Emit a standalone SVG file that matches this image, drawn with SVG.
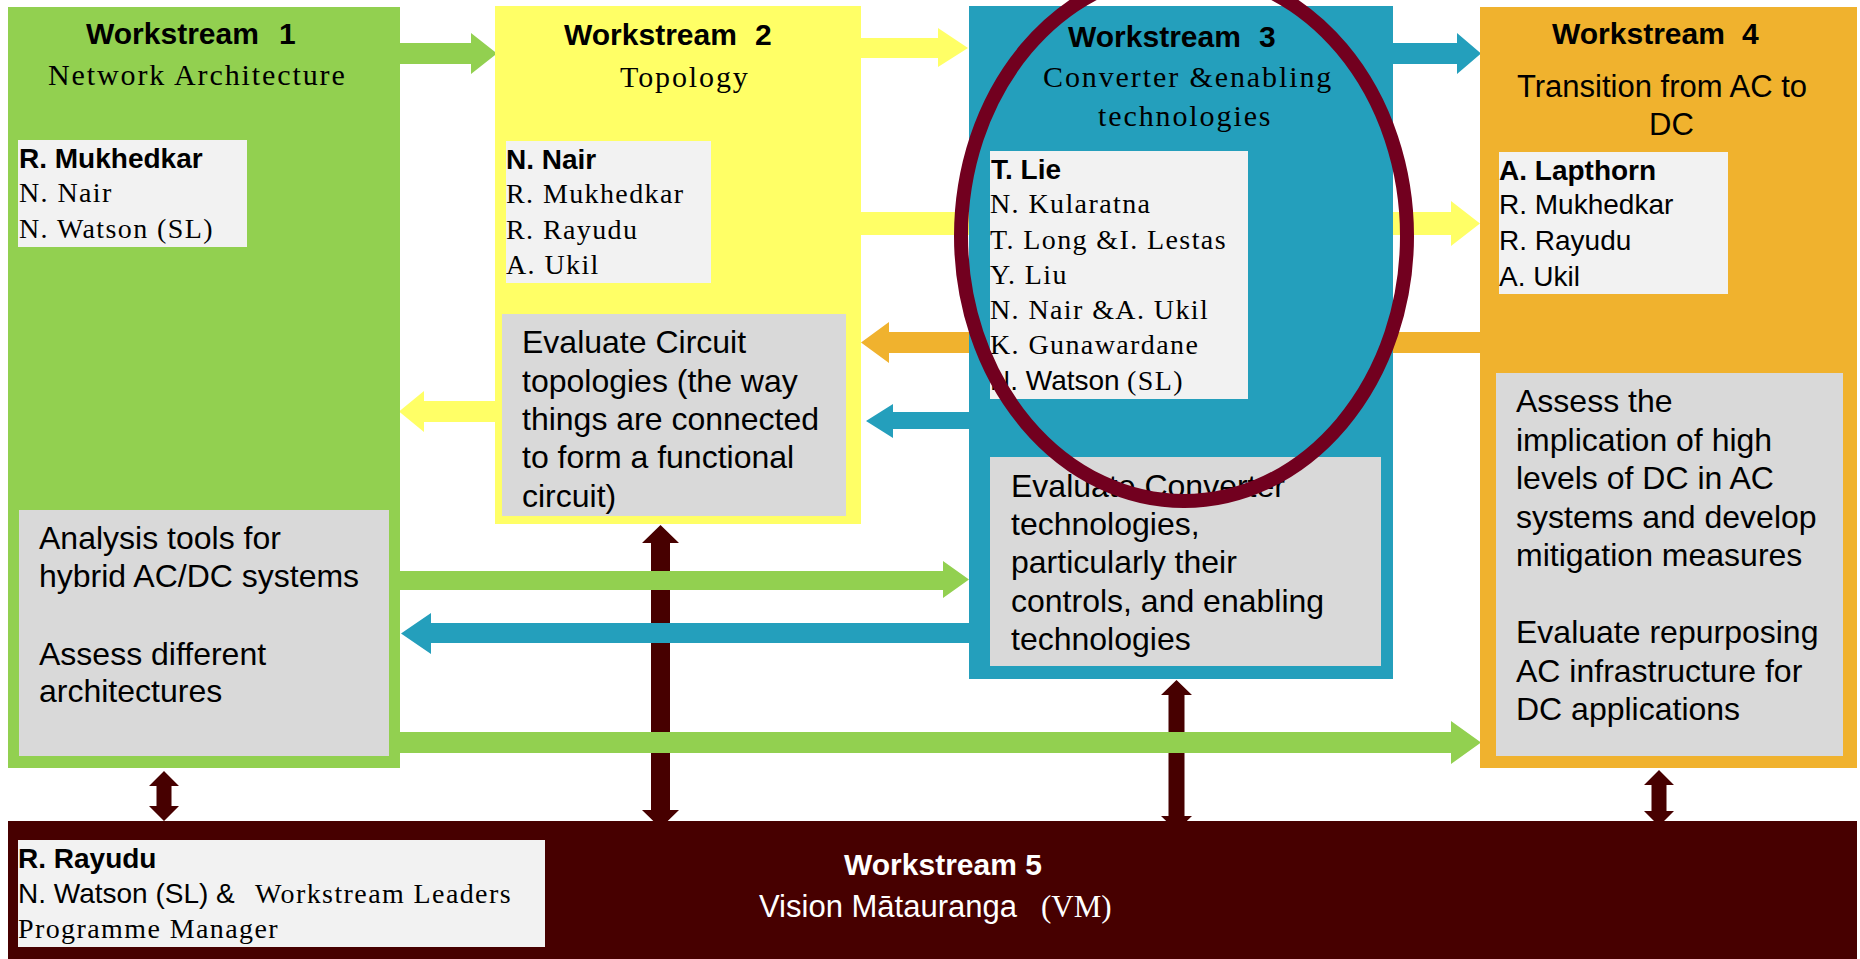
<svg xmlns="http://www.w3.org/2000/svg" width="1860" height="959" viewBox="0 0 1860 959">
<style>
.sans{font-family:"Liberation Sans",Arial,sans-serif}
.serif{font-family:"Liberation Serif","Times New Roman",serif}
.hd{font-family:"Liberation Sans",Arial,sans-serif;font-weight:bold;font-size:30px;fill:#000}
.sub{font-family:"Liberation Serif","Times New Roman",serif;font-size:30px;letter-spacing:1.9px;fill:#000}
.lead{font-family:"Liberation Sans",Arial,sans-serif;font-weight:bold;font-size:28px;fill:#000}
.nm{font-family:"Liberation Serif","Times New Roman",serif;font-size:28px;letter-spacing:1.4px;fill:#000}
.nms{font-family:"Liberation Sans",Arial,sans-serif;font-size:28px;fill:#000}
.desc{font-family:"Liberation Sans",Arial,sans-serif;font-size:32px;fill:#000}
.green{fill:#92d050}
.yellow{fill:#ffff66}
.teal{fill:#249fbc}
.orange{fill:#f0b22e}
.dark{fill:#470000}
.names{fill:#f2f2f2}
.box{fill:#d9d9d9}
</style>
<rect x="0" y="0" width="1860" height="959" fill="#ffffff"/>

<g id="connectors">
  <!-- vertical links to Workstream 5 -->
  <polygon class="dark" points="164,771 179,786 171.5,786 171.5,806 179,806 164,821 149,806 156.5,806 156.5,786 149,786"/>
  <polygon class="dark" points="660.5,525 679,543 670,543 670,810 679,810 660.5,828 642,810 651,810 651,543 642,543"/>
  <polygon class="dark" points="1176.5,680 1192,695 1184.5,695 1184.5,816 1192,816 1176.5,831 1161,816 1168.5,816 1168.5,695 1161,695"/>
  <polygon class="dark" points="1659,770 1674,785 1666.5,785 1666.5,811 1674,811 1659,826 1644,811 1651.5,811 1651.5,785 1644,785"/>
  <!-- horizontal arrows -->
  <polygon class="green" points="400,43 471,43 471,33 497,53.5 471,74 471,64 400,64"/>
  <polygon class="yellow" points="861,38 938,38 938,28 968,48 938,67 938,58 861,58"/>
  <polygon class="teal" points="1393,43 1457,43 1457,33 1481,53.5 1457,74 1457,64 1393,64"/>
  <polygon class="yellow" points="861,212 1451,212 1451,201 1480,223.5 1451,246 1451,235 861,235"/>
  <polygon class="orange" points="1481,332 889,332 889,322 861,342.5 889,363 889,353 1481,353"/>
  <polygon class="yellow" points="495,401 424,401 424,391 399,411.5 424,432 424,422 495,422"/>
  <polygon class="teal" points="969,412 893,412 893,404 866,421 893,438 893,429 969,429"/>
  <polygon class="green" points="400,571 943,571 943,561 969,579.5 943,598 943,590 400,590"/>
  <polygon class="teal" points="969,623 431,623 431,613 401,633.5 431,654 431,643 969,643"/>
  <polygon class="green" points="400,732 1451,732 1451,721 1481,742.5 1451,764 1451,753 400,753"/>
</g>

<g id="ws1">
  <rect class="green" x="8" y="7" width="392" height="761"/>
  <text class="hd" x="86" y="44">Workstream</text>
  <text class="hd" x="279" y="44">1</text>
  <text class="sub" x="48" y="85">Network Architecture</text>
  <rect class="names" x="18" y="140" width="229" height="107"/>
  <text class="lead" x="19" y="168">R. Mukhedkar</text>
  <text class="nm" x="19" y="202">N. Nair</text>
  <text class="nm" x="19" y="238">N. Watson (SL)</text>
  <rect class="box" x="19" y="510" width="370" height="246"/>
  <text class="desc" x="39" y="549">Analysis tools for</text>
  <text class="desc" x="39" y="587">hybrid AC/DC systems</text>
  <text class="desc" x="39" y="665">Assess different</text>
  <text class="desc" x="39" y="702">architectures</text>
</g>

<g id="ws2">
  <rect class="yellow" x="495" y="6" width="366" height="518"/>
  <text class="hd" x="564" y="45">Workstream</text>
  <text class="hd" x="755" y="45">2</text>
  <text class="sub" x="620" y="87">Topology</text>
  <rect class="names" x="506" y="141" width="205" height="142"/>
  <text class="lead" x="506" y="169">N. Nair</text>
  <text class="nm" x="506" y="203">R. Mukhedkar</text>
  <text class="nm" x="506" y="239">R. Rayudu</text>
  <text class="nm" x="506" y="274">A. Ukil</text>
  <rect class="box" x="502" y="314" width="344" height="202"/>
  <text class="desc" x="522" y="353">Evaluate Circuit</text>
  <text class="desc" x="522" y="392">topologies (the way</text>
  <text class="desc" x="522" y="430">things are connected</text>
  <text class="desc" x="522" y="468">to form a functional</text>
  <text class="desc" x="522" y="507">circuit)</text>
</g>

<g id="ws3">
  <rect class="teal" x="969" y="6" width="424" height="673"/>
  <text class="hd" x="1068" y="47">Workstream</text>
  <text class="hd" x="1259" y="47">3</text>
  <text class="sub" x="1043" y="87">Converter &amp;enabling</text>
  <text class="sub" x="1098" y="126">technologies</text>
  <rect class="names" x="990" y="151" width="258" height="248"/>
  <text class="lead" x="991" y="179">T. Lie</text>
  <text class="nm" x="990" y="213">N. Kularatna</text>
  <text class="nm" x="990" y="249">T. Long &amp;I. Lestas</text>
  <text class="nm" x="990" y="284">Y. Liu</text>
  <text class="nm" x="990" y="319">N. Nair &amp;A. Ukil</text>
  <text class="nm" x="990" y="354">K. Gunawardane</text>
  <text x="990" y="390"><tspan class="nms">N. Watson </tspan><tspan class="nm" x="1127">(SL)</tspan></text>
  <rect class="box" x="990" y="457" width="391" height="209"/>
  <text class="desc" x="1011" y="497">Evaluate Converter</text>
  <text class="desc" x="1011" y="535">technologies,</text>
  <text class="desc" x="1011" y="573">particularly their</text>
  <text class="desc" x="1011" y="612">controls, and enabling</text>
  <text class="desc" x="1011" y="650">technologies</text>
</g>

<g id="ws4">
  <rect class="orange" x="1480" y="7" width="377" height="761"/>
  <text class="hd" x="1552" y="44">Workstream</text>
  <text class="hd" x="1742" y="44">4</text>
  <text class="sans" x="1517" y="97" font-size="31">Transition from AC to</text>
  <text class="sans" x="1649" y="135" font-size="31">DC</text>
  <rect class="names" x="1499" y="152" width="229" height="142"/>
  <text class="lead" x="1499" y="180">A. Lapthorn</text>
  <text class="nms" x="1499" y="214">R. Mukhedkar</text>
  <text class="nms" x="1499" y="250">R. Rayudu</text>
  <text class="nms" x="1499" y="286">A. Ukil</text>
  <rect class="box" x="1496" y="373" width="347" height="383"/>
  <text class="desc" x="1516" y="412">Assess the</text>
  <text class="desc" x="1516" y="450.5">implication of high</text>
  <text class="desc" x="1516" y="489">levels of DC in AC</text>
  <text class="desc" x="1516" y="527.5">systems and develop</text>
  <text class="desc" x="1516" y="566">mitigation measures</text>
  <text class="desc" x="1516" y="643">Evaluate repurposing</text>
  <text class="desc" x="1516" y="681.5">AC infrastructure for</text>
  <text class="desc" x="1516" y="720">DC applications</text>
</g>

<g id="ws5">
  <rect class="dark" x="8" y="821" width="1849" height="138"/>
  <rect class="names" x="18" y="840" width="527" height="107"/>
  <text class="lead" x="18" y="868">R. Rayudu</text>
  <text x="18" y="903"><tspan class="nms">N. Watson (SL) &amp; </tspan><tspan class="nm" x="255" letter-spacing="2">Workstream Leaders</tspan></text>
  <text class="nm" x="18" y="938" letter-spacing="2.2">Programme Manager</text>
  <text class="hd" x="844" y="875" fill="#ffffff" style="fill:#ffffff">Workstream 5</text>
  <text x="759" y="917" fill="#ffffff"><tspan class="sans" font-size="31">Vision Mātauranga</tspan><tspan class="serif" x="1041" font-size="31">(VM)</tspan></text>
</g>

<g id="highlight">
  <ellipse cx="1184" cy="236" rx="223" ry="265" fill="none" stroke="#72001f" stroke-width="14"/>
</g>
</svg>
